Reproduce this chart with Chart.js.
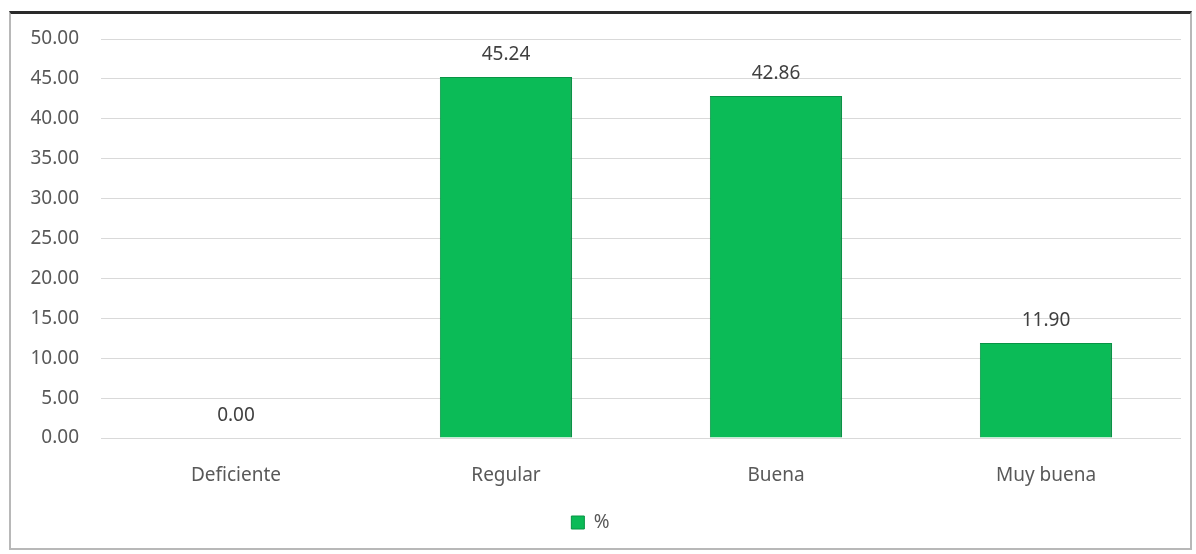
<!DOCTYPE html>
<html>
<head>
<meta charset="utf-8">
<script src="https://cdn.jsdelivr.net/npm/chart.js@4.4.0/dist/chart.umd.min.js"></script>
<style>
  body { margin: 0; background: #fff; }
  #wrap { position: relative; width: 1196px; height: 554px; }
  #frame {
    position: absolute; left: 9px; top: 11px; width: 1183px; height: 539px;
    border: 2px solid #b8b8b8; border-top: 3px solid #2a2a2a; box-sizing: border-box;
  }
  canvas { position: absolute; left: 0; top: 0; }
</style>
</head>
<body>
<div id="wrap">
  <div id="frame"></div>
  <canvas id="barChart" width="1196" height="554"></canvas>
</div>
<script>
// valores
const categorias = ['Deficiente', 'Regular', 'Buena', 'Muy buena'];
const porcentajes = [0.00, 45.24, 42.86, 11.90];
const nombreSerie = '%';

const fuente = "'Noto Sans', sans-serif";

// etiquetas encima de cada barra
const etiquetasBarras = {
    id: 'etiquetasBarras',
    afterDatasetsDraw(chart) {
        const ctx = chart.ctx;
        const meta = chart.getDatasetMeta(0);
        ctx.save();
        ctx.font = '19px ' + fuente;
        ctx.fillStyle = '#404040';
        ctx.textAlign = 'center';
        ctx.textBaseline = 'middle';
        meta.data.forEach((bar, i) => {
            ctx.fillText(porcentajes[i].toFixed(2), bar.x, bar.y - 22);
        });
        ctx.restore();
    }
};

const barChart = new Chart(document.getElementById('barChart').getContext('2d'), {
    type: 'bar',
    data: {
        labels: categorias,
        datasets: [{
            label: nombreSerie,
            data: porcentajes,
            backgroundColor: '#0bbb57',
            borderColor: '#089445',
            borderWidth: { top: 1, left: 1, right: 2, bottom: 0 },
            barPercentage: 0.98,
            categoryPercentage: 0.5
        }]
    },
    options: {
        responsive: false,
        animation: false,
        layout: { padding: { top: 39, right: 15, left: 0, bottom: 12 } },
        scales: {
            y: {
                min: 0,
                max: 50,
                ticks: {
                    stepSize: 5,
                    padding: 22,
                    color: '#595959',
                    font: { family: fuente, size: 19 },
                    callback: v => v.toFixed(2)
                },
                grid: { color: '#d9d9d9', drawTicks: false },
                border: { display: false },
                afterFit: s => { s.width = 101; }
            },
            x: {
                ticks: {
                    padding: 26,
                    color: '#595959',
                    font: { family: fuente, size: 19 }
                },
                grid: { display: false, drawTicks: false },
                border: { display: false },
                afterFit: s => { s.height = 65; }
            }
        },
        plugins: {
            legend: {
                position: 'bottom',
                labels: {
                    boxWidth: 13,
                    boxHeight: 13,
                    padding: 10,
                    color: '#595959',
                    font: { family: fuente, size: 19 }
                }
            },
            tooltip: { enabled: false }
        }
    },
    plugins: [etiquetasBarras]
});
</script>
</body>
</html>
